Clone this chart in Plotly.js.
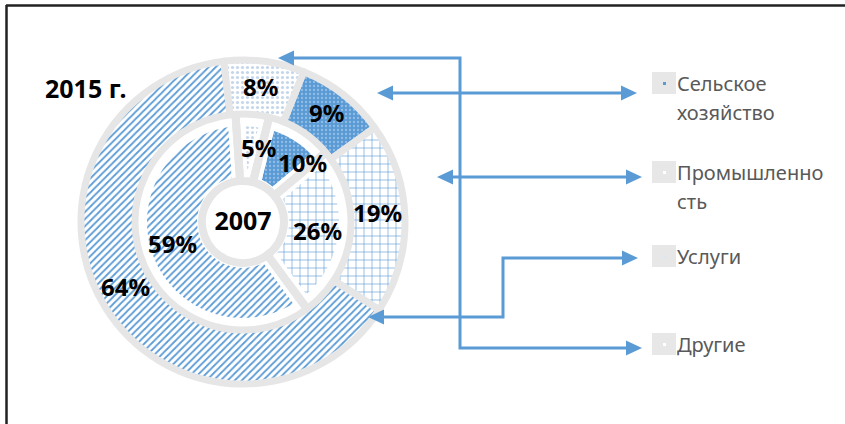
<!DOCTYPE html>
<html>
<head>
<meta charset="utf-8">
<script src="https://cdn.plot.ly/plotly-3.0.1.min.js"></script>
<style>html,body{margin:0;padding:0;background:#fff;}#chart{width:845px;height:424px;}</style>
</head>
<body>
<div id="chart"></div>
<script>
// ---- data ----
const categories = ['Сельское хозяйство', 'Промышленность', 'Услуги', 'Другие'];
const legendLines = [['Сельское', 'хозяйство'], ['Промышленно', 'сть'], ['Услуги'], ['Другие']];
const values2015 = [9, 19, 64, 8];
const values2007 = [10, 26, 59, 5];
const year2015 = '2015 г.';
const year2007 = '2007';

// ---- styles ----
const blue = '#5b9bd5';
const gray = '#e6e6e6';
const patShapes = ['.', '+', '/', '.'];
const patFg = ['#94bde6', blue, blue, '#c4d6ea'];
const patBg = [blue, '#ffffff', '#ffffff', '#ffffff'];
const patSize = [4, 8, 5, 5];
const patSol = [0.25, 0.15, 0.35, 0.3];
const font = 'Noto Sans, DejaVu Sans, sans-serif';
const W = 845, H = 424;
const CX = 243, CY = 222;
const rot2015 = 22, rot2007 = 14;
// label nudges (px), as in the original layout
const nudge2007 = [[20, 4], [0, 0], [0, -4], [9, 0]];
const nudge2015 = [[0, -3], [0, -6], [-3, -7], [0, -2]];

function dom(r) {
  return {x: [(CX - r) / W, (CX + r) / W], y: [(H - CY - r) / H, (H - CY + r) / H]};
}

const inner = {
  type: 'pie', labels: categories, values: values2007, sort: false,
  direction: 'clockwise', rotation: rot2007, hole: 38 / 104,
  domain: dom(104),
  marker: {colors: patBg, line: {color: '#ffffff', width: 16},
    pattern: {shape: patShapes, fgcolor: patFg, bgcolor: patBg, size: patSize, solidity: patSol}},
  textposition: 'none', showlegend: false, hoverinfo: 'none'
};
const innerFrame = {
  type: 'pie', labels: categories, values: values2007, sort: false,
  direction: 'clockwise', rotation: rot2007, hole: 41 / 118,
  domain: dom(118),
  marker: {colors: ['rgba(0,0,0,0)', 'rgba(0,0,0,0)', 'rgba(0,0,0,0)', 'rgba(0,0,0,0)'],
    line: {color: gray, width: 8}},
  textposition: 'none',
  title: {text: year2007, position: 'middle center', font: {family: font, size: 25, color: '#000', weight: 'bold'}},
  showlegend: false, hoverinfo: 'none'
};
const outer = {
  type: 'pie', labels: categories, values: values2015, sort: false,
  direction: 'clockwise', rotation: rot2015, hole: 108 / 162,
  domain: dom(162),
  marker: {colors: patBg, line: {color: gray, width: 7},
    pattern: {shape: patShapes, fgcolor: patFg, bgcolor: patBg, size: patSize, solidity: patSol}},
  textposition: 'none', showlegend: false, hoverinfo: 'none'
};

const annotations = [];
// percentage labels at slice mid-angles
function addLabels(vals, rot, r, nudge) {
  const tot = vals.reduce((a, b) => a + b, 0);
  let acc = 0;
  vals.forEach((v, i) => {
    const mid = (rot + (acc + v / 2) / tot * 360) * Math.PI / 180;
    acc += v;
    annotations.push({xref: 'x', yref: 'y', x: CX + r * Math.sin(mid) + nudge[i][0], y: CY - r * Math.cos(mid) + nudge[i][1],
      text: v + '%', showarrow: false, xanchor: 'center', yanchor: 'middle',
      font: {family: font, size: 24, color: '#000', weight: 'bold'}});
  });
}
addLabels(values2015, rot2015, 135, nudge2015);
addLabels(values2007, rot2007, 75, nudge2007);

// ---- decorations: arrows ----
const arrows = [
  [[278, 58], [460, 58], [460, 348], [642, 348]],
  [[377, 93], [637, 93]],
  [[437, 177], [642, 177]],
  [[368, 317], [503, 317], [503, 258], [638, 258]]
];
const shapes = [];
function head(tip, from) {
  const dx = tip[0] - from[0], dy = tip[1] - from[1];
  const L = Math.hypot(dx, dy), ux = dx / L, uy = dy / L;
  const len = 16, hw = 7.5;
  const bx = tip[0] - ux * len, by = tip[1] - uy * len;
  return `M${tip[0]},${tip[1]} L${bx - uy * hw},${by + ux * hw} L${bx + uy * hw},${by - ux * hw} Z`;
}
arrows.forEach(p => {
  const s = p.map(q => q.slice());
  function shorten(i, j) {
    const dx = s[j][0] - s[i][0], dy = s[j][1] - s[i][1];
    const L = Math.hypot(dx, dy);
    s[i][0] += dx / L * 10; s[i][1] += dy / L * 10;
  }
  shorten(0, 1); shorten(s.length - 1, s.length - 2);
  shapes.push({type: 'path', xref: 'x', yref: 'y',
    path: 'M' + s.map(q => q[0] + ',' + q[1]).join(' L'), line: {color: blue, width: 3}});
  shapes.push({type: 'path', xref: 'x', yref: 'y', path: head(p[0], p[1]), fillcolor: blue, line: {width: 0}});
  shapes.push({type: 'path', xref: 'x', yref: 'y', path: head(p[p.length - 1], p[p.length - 2]), fillcolor: blue, line: {width: 0}});
});

// frame (top and left)
shapes.push({type: 'line', xref: 'x', yref: 'y', x0: 6, x1: 845, y0: 5.5, y1: 5.5, line: {color: '#222', width: 2.5}});
shapes.push({type: 'line', xref: 'x', yref: 'y', x0: 6.5, x1: 6.5, y0: 5, y1: 424, line: {color: '#222', width: 2.5}});

// ---- legend (custom) ----
const legendTop = [72, 161, 245, 333];
const legendDot = [blue, '#ffffff', '#dbe7f4', '#ffffff'];
legendLines.forEach((lines, i) => {
  const y0 = legendTop[i];
  shapes.push({type: 'rect', xref: 'x', yref: 'y', x0: 652, x1: 676, y0: y0, y1: y0 + 22, fillcolor: '#e7e7e7', line: {width: 0}});
  shapes.push({type: 'rect', xref: 'x', yref: 'y', x0: 663, x1: 666, y0: y0 + 10, y1: y0 + 13, fillcolor: legendDot[i], line: {width: 0}});
  lines.forEach((t, k) => {
    annotations.push({xref: 'x', yref: 'y', x: 675, y: y0 + 11 + k * 29, text: t, showarrow: false,
      xanchor: 'left', yanchor: 'middle', font: {family: font, size: 20, color: '#595959'}});
  });
});
annotations.push({xref: 'x', yref: 'y', x: 86, y: 88, text: year2015, showarrow: false,
  xanchor: 'center', yanchor: 'middle', font: {family: font, size: 25, color: '#000', weight: 'bold'}});

const layout = {
  width: W, height: H, margin: {l: 0, r: 0, t: 0, b: 0},
  paper_bgcolor: '#fff', plot_bgcolor: 'rgba(0,0,0,0)',
  xaxis: {range: [0, W], visible: false, fixedrange: true},
  yaxis: {range: [H, 0], visible: false, fixedrange: true},
  shapes: shapes, annotations: annotations, showlegend: false
};
Plotly.newPlot('chart', [inner, innerFrame, outer], layout, {displayModeBar: false, staticPlot: true});
</script>
</body>
</html>
